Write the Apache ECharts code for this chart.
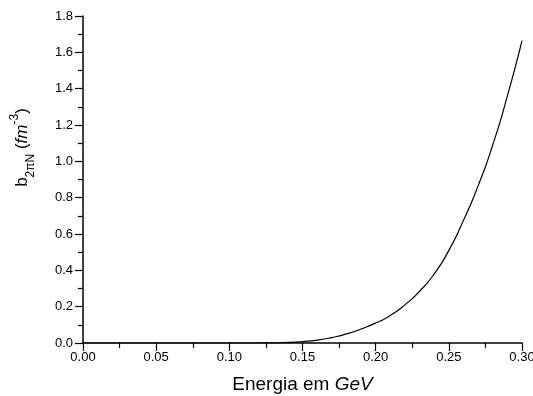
<!DOCTYPE html>
<html>
<head>
<meta charset="utf-8">
<script src="https://cdn.jsdelivr.net/npm/echarts@6/dist/echarts.min.js"></script>
<style>
  html, body { margin: 0; padding: 0; background: #fff; overflow: hidden; }
  #chart { width: 533px; height: 396px; }
</style>
</head>
<body>
<div id="chart"></div>
<script>
// Energy (GeV) and the corresponding b_{2πN} values (fm^-3)
const energy = [0.00, 0.01, 0.02, 0.03, 0.04, 0.05, 0.06, 0.07, 0.08, 0.09,
                0.10, 0.11, 0.12, 0.13, 0.14, 0.15, 0.16, 0.17, 0.18, 0.19,
                0.20, 0.21, 0.22, 0.23, 0.24, 0.25, 0.26, 0.27, 0.28, 0.29, 0.30];
const b2piN = [0, 0, 0, 0, 0, 0, 0, 0, 0, 0,
               0, 0, 0, 0.001, 0.003, 0.008, 0.016, 0.03, 0.05, 0.077,
               0.11, 0.152, 0.21, 0.285, 0.38, 0.51, 0.675, 0.865, 1.09, 1.36, 1.665];

const xTicks = ['0.00', '0.05', '0.10', '0.15', '0.20', '0.25', '0.30'];
const yTicks = ['0.0', '0.2', '0.4', '0.6', '0.8', '1.0', '1.2', '1.4', '1.6', '1.8'];

const FONT = '"Liberation Sans", Arial, sans-serif';
const points = energy.map((e, i) => [e, b2piN[i]]);

const chart = echarts.init(document.getElementById('chart'), null, { renderer: 'canvas' });

const axisCommon = {
  axisLine: { show: true, onZero: false, lineStyle: { color: '#000', width: 1.5 } },
  axisTick: { show: true, inside: false, length: 8, lineStyle: { color: '#000', width: 1.2 } },
  minorTick: { show: true, splitNumber: 2, length: 5, lineStyle: { color: '#000', width: 1.2 } },
  splitLine: { show: false },
  axisLabel: { color: '#000', fontFamily: FONT, fontSize: 13 }
};

chart.setOption({
  animation: false,
  backgroundColor: '#fff',
  grid: { left: 83, right: 11, top: 16, bottom: 53, containLabel: false, outerBoundsMode: 'none' },
  xAxis: Object.assign({}, axisCommon, {
    type: 'value',
    min: 0, max: 0.3, interval: 0.05,
    name: 'Energia em {i|GeV}',
    nameLocation: 'middle',
    nameGap: 32,
    nameTextStyle: {
      color: '#000', fontFamily: FONT, fontSize: 19,
      rich: { i: { fontStyle: 'italic', fontFamily: FONT, fontSize: 19, color: '#000' } }
    },
    axisLabel: Object.assign({}, axisCommon.axisLabel, {
      margin: 8,
      formatter: v => xTicks[Math.round(v / 0.05)]
    })
  }),
  yAxis: Object.assign({}, axisCommon, {
    type: 'value',
    min: 0, max: 1.8, interval: 0.2,
    name: '{n|b}{sub|2πN}{n| (}{i|fm}{sup|-3}{n|)}',
    nameLocation: 'middle',
    nameGap: 49,
    nameRotate: 90,
    nameTextStyle: {
      color: '#000', fontFamily: FONT, fontSize: 17,
      padding: [0, 0, 0, 64],
      rich: {
        n: { fontFamily: FONT, fontSize: 17, color: '#000', lineHeight: 24, verticalAlign: 'middle' },
        i: { fontFamily: FONT, fontSize: 17, fontStyle: 'italic', color: '#000', lineHeight: 24, verticalAlign: 'middle' },
        sub: { fontFamily: FONT, fontSize: 12, color: '#000', lineHeight: 24, verticalAlign: 'bottom', padding: [0, 0, -3, 0] },
        sup: { fontFamily: FONT, fontSize: 12, color: '#000', lineHeight: 24, verticalAlign: 'top', padding: [-1, 0, 0, 0] }
      }
    },
    axisLabel: Object.assign({}, axisCommon.axisLabel, {
      margin: 10,
      formatter: v => yTicks[Math.round(v / 0.2)]
    })
  }),
  series: [{
    type: 'line',
    data: points,
    showSymbol: false,
    smooth: 0.6,
    lineStyle: { color: '#000', width: 1.2 },
    clip: true
  }]
});
</script>
</body>
</html>
